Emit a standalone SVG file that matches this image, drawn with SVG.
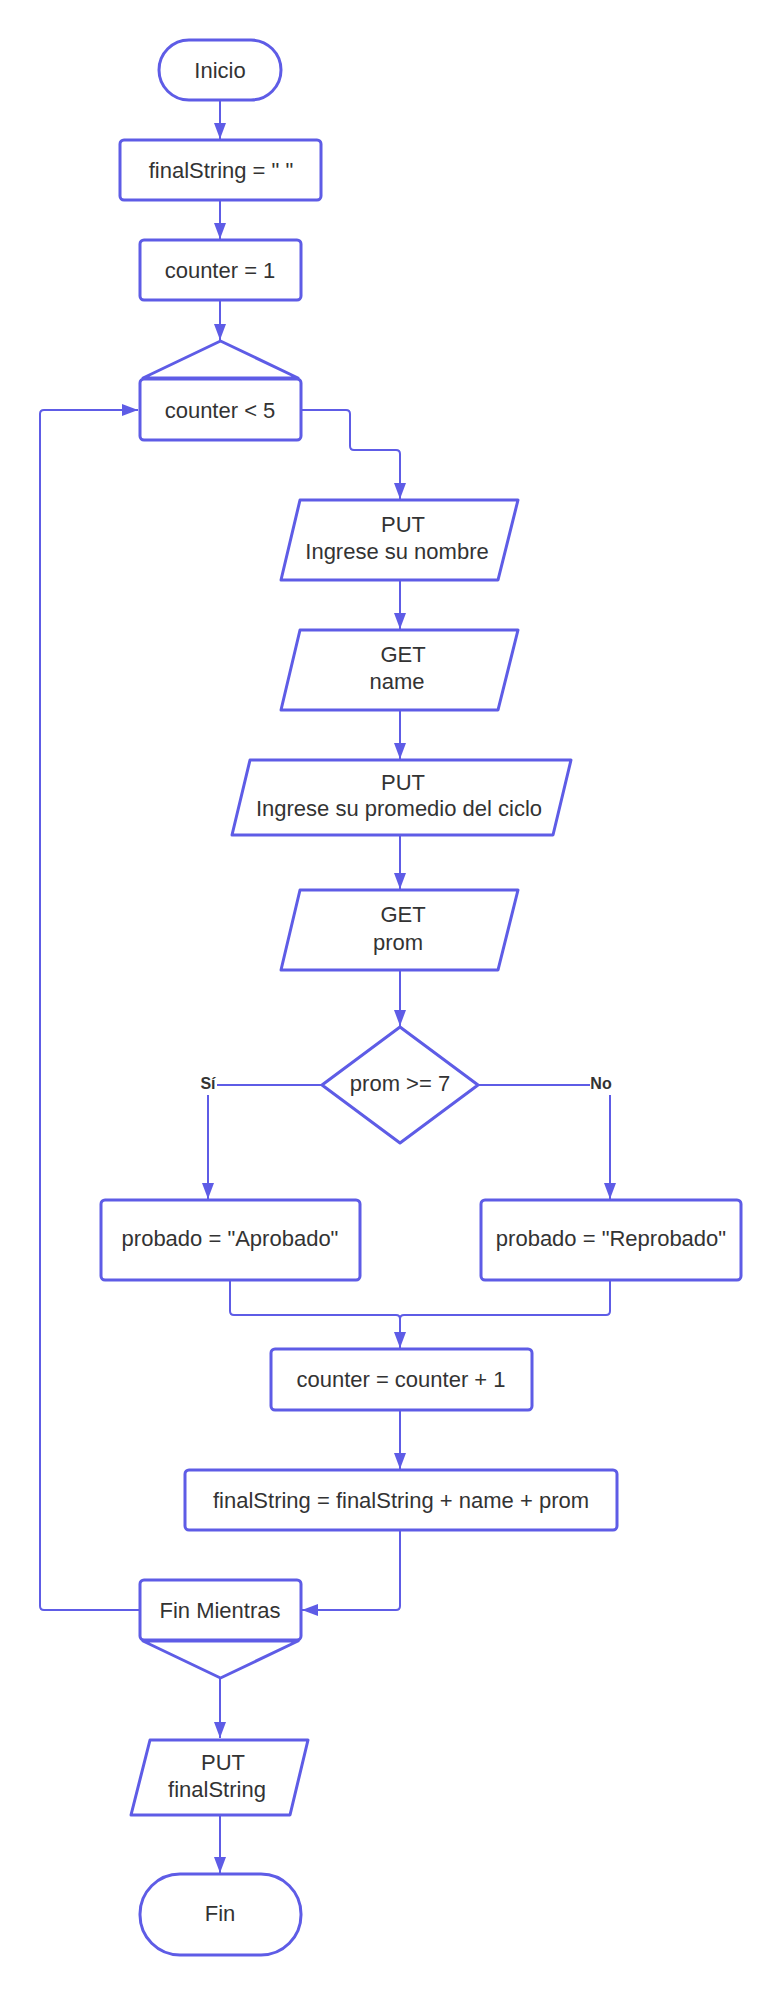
<svg xmlns="http://www.w3.org/2000/svg" width="780" height="1995" viewBox="0 0 780 1995">
<defs>
<style>
.s{fill:#ffffff;stroke:#5E5CE6;stroke-width:3;stroke-linejoin:round}
.c{fill:none;stroke:#5E5CE6;stroke-width:2}
.t{font-family:"Liberation Sans",Arial,sans-serif;font-size:22px;fill:#333333;text-anchor:middle}
.l{font-family:"Liberation Sans",Arial,sans-serif;font-size:16px;font-weight:bold;fill:#333333;text-anchor:middle}
</style>
<marker id="ah" markerUnits="userSpaceOnUse" markerWidth="16" markerHeight="14" refX="16" refY="7" orient="auto">
<path d="M0,1 L16,7 L0,13 z" fill="#5E5CE6"/>
</marker>
</defs>
<rect width="780" height="1995" fill="#ffffff"/>
<g id="connectors">
<path class="c" d="M220,100 V139" marker-end="url(#ah)"/>
<path class="c" d="M220,200 V239" marker-end="url(#ah)"/>
<path class="c" d="M220,300 V340" marker-end="url(#ah)"/>
<path class="c" d="M301,410 H346 Q350,410 350,414 V446 Q350,450 354,450 H396 Q400,450 400,454 V499" marker-end="url(#ah)"/>
<path class="c" d="M400,580 V629" marker-end="url(#ah)"/>
<path class="c" d="M400,710 V759" marker-end="url(#ah)"/>
<path class="c" d="M400,835 V889" marker-end="url(#ah)"/>
<path class="c" d="M400,970 V1026" marker-end="url(#ah)"/>
<path class="c" d="M322,1085 H217"/>
<path class="c" d="M208,1095 V1199" marker-end="url(#ah)"/>
<path class="c" d="M478,1085 H590"/>
<path class="c" d="M610,1095 V1199" marker-end="url(#ah)"/>
<path class="c" d="M230,1280 V1311 Q230,1315 234,1315 H396 Q400,1315 400,1319 V1348" marker-end="url(#ah)"/>
<path class="c" d="M610,1280 V1311 Q610,1315 606,1315 H404 Q400,1315 400,1319"/>
<path class="c" d="M400,1410 V1469" marker-end="url(#ah)"/>
<path class="c" d="M400,1530 V1606 Q400,1610 396,1610 H302" marker-end="url(#ah)"/>
<path class="c" d="M140,1610 H44 Q40,1610 40,1606 V414 Q40,410 44,410 H138" marker-end="url(#ah)"/>
<path class="c" d="M220,1678 V1738" marker-end="url(#ah)"/>
<path class="c" d="M220,1815 V1873" marker-end="url(#ah)"/>
<text class="l" x="208" y="1089">Sí</text>
<text class="l" x="601" y="1089">No</text>
</g>
<g id="inicio">
<rect class="s" x="159" y="40" width="122" height="60" rx="30"/>
<text class="t" x="220" y="78">Inicio</text>
</g>
<g id="init-finalString">
<rect class="s" x="120" y="140" width="201" height="60" rx="4"/>
<text class="t" x="221" y="178">finalString = " "</text>
</g>
<g id="init-counter">
<rect class="s" x="140" y="240" width="161" height="60" rx="4"/>
<text class="t" x="220" y="278">counter = 1</text>
</g>
<g id="loop-start">
<path class="s" d="M143,378 L220.5,341 L298,378 Z"/>
<rect class="s" x="140" y="379" width="161" height="61" rx="4"/>
<text class="t" x="220" y="418">counter &lt; 5</text>
</g>
<g id="put-nombre">
<path class="s" d="M300,500 H518 L498,580 H281 Z"/>
<text class="t" x="403" y="532">PUT</text>
<text class="t" x="397" y="559">Ingrese su nombre</text>
</g>
<g id="get-name">
<path class="s" d="M300,630 H518 L498,710 H281 Z"/>
<text class="t" x="403" y="662">GET</text>
<text class="t" x="397" y="689">name</text>
</g>
<g id="put-promedio">
<path class="s" d="M250,760 H571 L553,835 H232 Z"/>
<text class="t" x="403" y="790">PUT</text>
<text class="t" x="399" y="816">Ingrese su promedio del ciclo</text>
</g>
<g id="get-prom">
<path class="s" d="M300,890 H518 L498,970 H281 Z"/>
<text class="t" x="403" y="922">GET</text>
<text class="t" x="398" y="950">prom</text>
</g>
<g id="decision">
<path class="s" d="M400,1027 L478,1085 L400,1143 L322,1085 Z"/>
<text class="t" x="400" y="1091">prom &gt;= 7</text>
</g>
<g id="aprobado">
<rect class="s" x="101" y="1200" width="259" height="80" rx="4"/>
<text class="t" x="230" y="1246">probado = "Aprobado"</text>
</g>
<g id="reprobado">
<rect class="s" x="481" y="1200" width="260" height="80" rx="4"/>
<text class="t" x="611" y="1246">probado = "Reprobado"</text>
</g>
<g id="increment">
<rect class="s" x="271" y="1349" width="261" height="61" rx="4"/>
<text class="t" x="401" y="1387">counter = counter + 1</text>
</g>
<g id="concat">
<rect class="s" x="185" y="1470" width="432" height="60" rx="4"/>
<text class="t" x="401" y="1508">finalString = finalString + name + prom</text>
</g>
<g id="loop-end">
<rect class="s" x="140" y="1580" width="161" height="60" rx="4"/>
<path class="s" d="M143,1641 L220.5,1678 L298,1641 Z"/>
<text class="t" x="220" y="1618">Fin Mientras</text>
</g>
<g id="put-finalString">
<path class="s" d="M150,1740 H308 L290,1815 H131 Z"/>
<text class="t" x="223" y="1770">PUT</text>
<text class="t" x="217" y="1797">finalString</text>
</g>
<g id="fin">
<rect class="s" x="140" y="1874" width="161" height="81" rx="40"/>
<text class="t" x="220" y="1921">Fin</text>
</g>
</svg>
